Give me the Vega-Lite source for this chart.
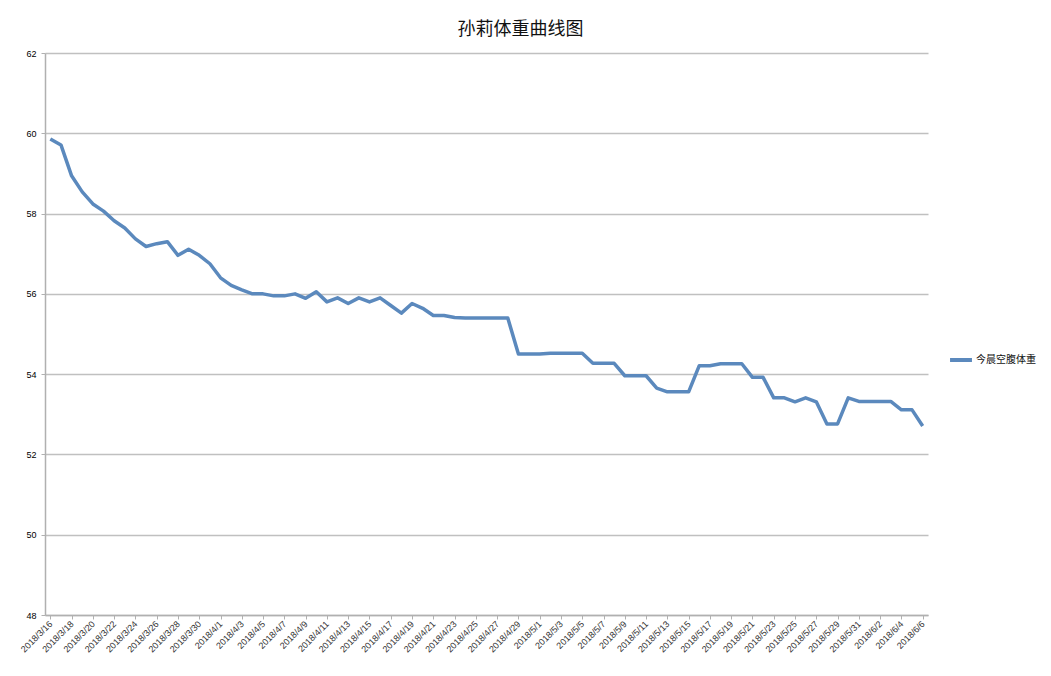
{
  "$schema": "https://vega.github.io/schema/vega-lite/v6.json",
  "width": 883,
  "height": 562,
  "autosize": {"type": "none"},
  "padding": {"left": 45, "top": 53, "right": 123, "bottom": 61},
  "background": "#ffffff",
  "title": {
    "text": "孙莉体重曲线图",
    "font": "Noto Sans CJK SC",
    "fontSize": 18,
    "fontWeight": "normal",
    "color": "#111111",
    "anchor": "middle",
    "dx": 34,
    "offset": 10
  },
  "config": {
    "view": {"stroke": null},
    "font": "Liberation Sans"
  },
  "data": {
    "values": [
      {"date": "2018/3/16", "weight": 59.86, "series": "今晨空腹体重"},
      {"date": "2018/3/17", "weight": 59.71, "series": "今晨空腹体重"},
      {"date": "2018/3/18", "weight": 58.94, "series": "今晨空腹体重"},
      {"date": "2018/3/19", "weight": 58.54, "series": "今晨空腹体重"},
      {"date": "2018/3/20", "weight": 58.24, "series": "今晨空腹体重"},
      {"date": "2018/3/21", "weight": 58.06, "series": "今晨空腹体重"},
      {"date": "2018/3/22", "weight": 57.82, "series": "今晨空腹体重"},
      {"date": "2018/3/23", "weight": 57.64, "series": "今晨空腹体重"},
      {"date": "2018/3/24", "weight": 57.37, "series": "今晨空腹体重"},
      {"date": "2018/3/25", "weight": 57.18, "series": "今晨空腹体重"},
      {"date": "2018/3/26", "weight": 57.25, "series": "今晨空腹体重"},
      {"date": "2018/3/27", "weight": 57.3, "series": "今晨空腹体重"},
      {"date": "2018/3/28", "weight": 56.96, "series": "今晨空腹体重"},
      {"date": "2018/3/29", "weight": 57.11, "series": "今晨空腹体重"},
      {"date": "2018/3/30", "weight": 56.96, "series": "今晨空腹体重"},
      {"date": "2018/3/31", "weight": 56.75, "series": "今晨空腹体重"},
      {"date": "2018/4/1", "weight": 56.4, "series": "今晨空腹体重"},
      {"date": "2018/4/2", "weight": 56.21, "series": "今晨空腹体重"},
      {"date": "2018/4/3", "weight": 56.1, "series": "今晨空腹体重"},
      {"date": "2018/4/4", "weight": 56.0, "series": "今晨空腹体重"},
      {"date": "2018/4/5", "weight": 56.0, "series": "今晨空腹体重"},
      {"date": "2018/4/6", "weight": 55.95, "series": "今晨空腹体重"},
      {"date": "2018/4/7", "weight": 55.95, "series": "今晨空腹体重"},
      {"date": "2018/4/8", "weight": 56.0, "series": "今晨空腹体重"},
      {"date": "2018/4/9", "weight": 55.89, "series": "今晨空腹体重"},
      {"date": "2018/4/10", "weight": 56.05, "series": "今晨空腹体重"},
      {"date": "2018/4/11", "weight": 55.8, "series": "今晨空腹体重"},
      {"date": "2018/4/12", "weight": 55.9, "series": "今晨空腹体重"},
      {"date": "2018/4/13", "weight": 55.76, "series": "今晨空腹体重"},
      {"date": "2018/4/14", "weight": 55.9, "series": "今晨空腹体重"},
      {"date": "2018/4/15", "weight": 55.8, "series": "今晨空腹体重"},
      {"date": "2018/4/16", "weight": 55.9, "series": "今晨空腹体重"},
      {"date": "2018/4/17", "weight": 55.71, "series": "今晨空腹体重"},
      {"date": "2018/4/18", "weight": 55.52, "series": "今晨空腹体重"},
      {"date": "2018/4/19", "weight": 55.76, "series": "今晨空腹体重"},
      {"date": "2018/4/20", "weight": 55.64, "series": "今晨空腹体重"},
      {"date": "2018/4/21", "weight": 55.46, "series": "今晨空腹体重"},
      {"date": "2018/4/22", "weight": 55.46, "series": "今晨空腹体重"},
      {"date": "2018/4/23", "weight": 55.41, "series": "今晨空腹体重"},
      {"date": "2018/4/24", "weight": 55.4, "series": "今晨空腹体重"},
      {"date": "2018/4/25", "weight": 55.4, "series": "今晨空腹体重"},
      {"date": "2018/4/26", "weight": 55.4, "series": "今晨空腹体重"},
      {"date": "2018/4/27", "weight": 55.4, "series": "今晨空腹体重"},
      {"date": "2018/4/28", "weight": 55.4, "series": "今晨空腹体重"},
      {"date": "2018/4/29", "weight": 54.5, "series": "今晨空腹体重"},
      {"date": "2018/4/30", "weight": 54.5, "series": "今晨空腹体重"},
      {"date": "2018/5/1", "weight": 54.5, "series": "今晨空腹体重"},
      {"date": "2018/5/2", "weight": 54.52, "series": "今晨空腹体重"},
      {"date": "2018/5/3", "weight": 54.52, "series": "今晨空腹体重"},
      {"date": "2018/5/4", "weight": 54.52, "series": "今晨空腹体重"},
      {"date": "2018/5/5", "weight": 54.52, "series": "今晨空腹体重"},
      {"date": "2018/5/6", "weight": 54.27, "series": "今晨空腹体重"},
      {"date": "2018/5/7", "weight": 54.27, "series": "今晨空腹体重"},
      {"date": "2018/5/8", "weight": 54.27, "series": "今晨空腹体重"},
      {"date": "2018/5/9", "weight": 53.96, "series": "今晨空腹体重"},
      {"date": "2018/5/10", "weight": 53.96, "series": "今晨空腹体重"},
      {"date": "2018/5/11", "weight": 53.96, "series": "今晨空腹体重"},
      {"date": "2018/5/12", "weight": 53.65, "series": "今晨空腹体重"},
      {"date": "2018/5/13", "weight": 53.56, "series": "今晨空腹体重"},
      {"date": "2018/5/14", "weight": 53.56, "series": "今晨空腹体重"},
      {"date": "2018/5/15", "weight": 53.56, "series": "今晨空腹体重"},
      {"date": "2018/5/16", "weight": 54.21, "series": "今晨空腹体重"},
      {"date": "2018/5/17", "weight": 54.21, "series": "今晨空腹体重"},
      {"date": "2018/5/18", "weight": 54.26, "series": "今晨空腹体重"},
      {"date": "2018/5/19", "weight": 54.26, "series": "今晨空腹体重"},
      {"date": "2018/5/20", "weight": 54.26, "series": "今晨空腹体重"},
      {"date": "2018/5/21", "weight": 53.92, "series": "今晨空腹体重"},
      {"date": "2018/5/22", "weight": 53.92, "series": "今晨空腹体重"},
      {"date": "2018/5/23", "weight": 53.41, "series": "今晨空腹体重"},
      {"date": "2018/5/24", "weight": 53.41, "series": "今晨空腹体重"},
      {"date": "2018/5/25", "weight": 53.31, "series": "今晨空腹体重"},
      {"date": "2018/5/26", "weight": 53.41, "series": "今晨空腹体重"},
      {"date": "2018/5/27", "weight": 53.31, "series": "今晨空腹体重"},
      {"date": "2018/5/28", "weight": 52.76, "series": "今晨空腹体重"},
      {"date": "2018/5/29", "weight": 52.76, "series": "今晨空腹体重"},
      {"date": "2018/5/30", "weight": 53.41, "series": "今晨空腹体重"},
      {"date": "2018/5/31", "weight": 53.32, "series": "今晨空腹体重"},
      {"date": "2018/6/1", "weight": 53.32, "series": "今晨空腹体重"},
      {"date": "2018/6/2", "weight": 53.32, "series": "今晨空腹体重"},
      {"date": "2018/6/3", "weight": 53.32, "series": "今晨空腹体重"},
      {"date": "2018/6/4", "weight": 53.11, "series": "今晨空腹体重"},
      {"date": "2018/6/5", "weight": 53.11, "series": "今晨空腹体重"},
      {"date": "2018/6/6", "weight": 52.71, "series": "今晨空腹体重"}
    ]
  },
  "mark": {"type": "line", "strokeWidth": 3.5, "strokeJoin": "round"},
  "encoding": {
    "x": {
      "field": "date",
      "type": "ordinal",
      "sort": null,
      "scale": {"type": "point", "padding": 0.5},
      "axis": {
        "title": null,
        "values": ["2018/3/16","2018/3/18","2018/3/20","2018/3/22","2018/3/24","2018/3/26","2018/3/28","2018/3/30","2018/4/1","2018/4/3","2018/4/5","2018/4/7","2018/4/9","2018/4/11","2018/4/13","2018/4/15","2018/4/17","2018/4/19","2018/4/21","2018/4/23","2018/4/25","2018/4/27","2018/4/29","2018/5/1","2018/5/3","2018/5/5","2018/5/7","2018/5/9","2018/5/11","2018/5/13","2018/5/15","2018/5/17","2018/5/19","2018/5/21","2018/5/23","2018/5/25","2018/5/27","2018/5/29","2018/5/31","2018/6/2","2018/6/4","2018/6/6"],
        "labelAngle": -45,
        "labelAlign": "right",
        "labelBaseline": "middle",
        "labelFontSize": 9,
        "labelColor": "#333333",
        "labelPadding": 3,
        "labelOverlap": false,
        "tickSize": 4,
        "tickColor": "#b0b0b0",
        "domainColor": "#b0b0b0",
        "domainWidth": 1.5,
        "grid": false
      }
    },
    "y": {
      "field": "weight",
      "type": "quantitative",
      "scale": {"domain": [48, 62], "nice": false, "zero": false},
      "axis": {
        "title": null,
        "values": [48, 50, 52, 54, 56, 58, 60, 62],
        "labelFontSize": 9,
        "labelColor": "#000000",
        "labelPadding": 5,
        "tickSize": 4,
        "tickColor": "#b0b0b0",
        "domainColor": "#b0b0b0",
        "domainWidth": 1.5,
        "gridColor": "#c0c0c0",
        "gridWidth": 1.5
      }
    },
    "color": {
      "field": "series",
      "type": "nominal",
      "scale": {"range": ["#5b89bd"]},
      "legend": {
        "title": null,
        "orient": "none",
        "legendX": 903,
        "legendY": 294,
        "symbolType": "stroke",
        "symbolSize": 480,
        "symbolStrokeWidth": 4,
        "labelFont": "Noto Sans CJK SC",
        "labelFontSize": 10,
        "labelColor": "#111111",
        "labelOffset": 2
      }
    }
  }
}
